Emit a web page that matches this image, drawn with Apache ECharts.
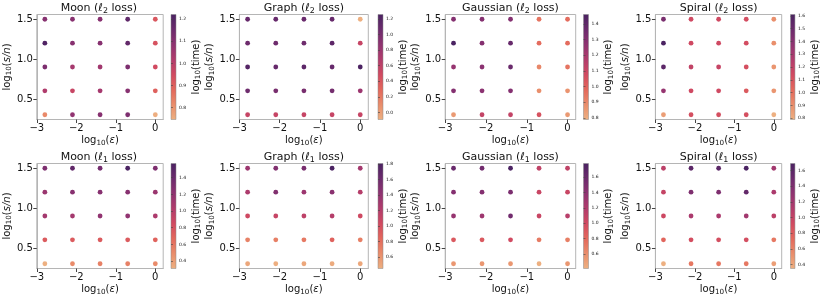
<!DOCTYPE html>
<html><head><meta charset="utf-8">
<script src="https://cdn.jsdelivr.net/npm/echarts@6/dist/echarts.min.js"></script>
<style>html,body{margin:0;padding:0;background:#fff}#c{width:822px;height:298px}</style>
</head><body><div id="c"></div>
<script>
// x: log10(eps), y: log10(s/n)
const epsLog = [-2.796, -2.097, -1.398, -0.699, 0];
const snLog = [0.301, 0.602, 0.903, 1.204, 1.505];
const xTicks = [-3, -2, -1, 0];
const yTicks = [0.5, 1.0, 1.5];

const panelNames = ['Moon', 'Graph', 'Gaussian', 'Spiral', 'Moon', 'Graph', 'Gaussian', 'Spiral'];
const panelLoss = ['2', '2', '2', '2', '1', '1', '1', '1'];

// log10(time), rows from s/n = 0.301 (bottom) to 1.505 (top), columns by epsLog
const moonL2 = [
  [0.82, 1.08, 1.10, 1.12, 0.75],
  [1.02, 0.97, 1.04, 1.10, 0.90],
  [1.12, 1.04, 1.05, 1.12, 0.95],
  [1.21, 1.10, 1.10, 1.17, 0.93],
  [1.10, 1.10, 1.10, 1.18, 0.92]
];
const graphL2 = [
  [0.55, 0.55, 0.55, 0.55, 0.55],
  [1.05, 1.00, 1.00, 1.02, 0.80],
  [1.20, 1.10, 1.15, 1.10, 1.25],
  [1.05, 1.05, 1.05, 1.15, 0.55],
  [1.10, 1.10, 1.08, 1.10, -0.09]
];
const gaussL2 = [
  [0.85, 1.12, 1.12, 1.05, 0.85],
  [1.30, 1.28, 1.30, 0.88, 0.87],
  [1.25, 1.28, 1.37, 0.90, 0.95],
  [1.46, 1.30, 1.38, 0.97, 0.97],
  [1.30, 1.30, 1.30, 0.95, 0.97]
];
const spiralL2 = [
  [0.85, 1.12, 1.12, 1.12, 0.79],
  [1.35, 1.15, 1.15, 1.08, 0.88],
  [1.55, 1.20, 1.18, 1.12, 0.88],
  [1.61, 1.15, 1.15, 1.13, 0.90],
  [1.45, 1.15, 1.15, 1.13, 0.90]
];
const moonL1 = [
  [0.31, 0.50, 0.55, 0.55, 0.50],
  [0.75, 0.75, 0.75, 0.75, 0.70],
  [1.10, 1.10, 1.20, 1.20, 1.05],
  [1.15, 1.25, 1.25, 1.25, 1.15],
  [1.30, 1.45, 1.35, 1.57, 1.30]
];
const graphL1 = [
  [0.50, 0.46, 0.50, 0.48, 0.50],
  [0.70, 0.72, 0.75, 0.88, 0.72],
  [1.05, 1.10, 1.15, 1.20, 1.05],
  [1.25, 1.50, 1.35, 1.45, 1.20],
  [1.35, 1.50, 1.55, 1.81, 1.30]
];
const gaussL1 = [
  [0.55, 0.55, 0.55, 0.41, 0.55],
  [0.90, 0.90, 1.00, 0.70, 0.68],
  [1.35, 1.30, 1.55, 1.05, 1.15],
  [1.45, 1.45, 1.50, 1.05, 1.05],
  [1.60, 1.55, 1.78, 1.10, 1.10]
];
const spiralL1 = [
  [0.35, 0.65, 0.65, 0.65, 0.45],
  [0.75, 0.90, 0.90, 0.90, 0.65],
  [0.95, 1.15, 1.15, 1.20, 1.05],
  [1.00, 1.40, 1.40, 1.55, 1.15],
  [1.05, 1.60, 1.60, 1.69, 1.20]
];
const panelValues = [moonL2, graphL2, gaussL2, spiralL2, moonL1, graphL1, gaussL1, spiralL1];

// colorbar ranges and ticks
const cbRange = [[0.747, 1.22], [-0.09, 1.256], [0.79, 1.46], [0.79, 1.61],
                 [0.31, 1.57], [0.45, 1.81], [0.41, 1.78], [0.35, 1.69]];
const cbTicks = [
  [0.8, 0.9, 1.0, 1.1, 1.2],
  [0.0, 0.2, 0.4, 0.6, 0.8, 1.0, 1.2],
  [0.8, 0.9, 1.0, 1.1, 1.2, 1.3, 1.4],
  [0.8, 0.9, 1.0, 1.1, 1.2, 1.3, 1.4, 1.5, 1.6],
  [0.4, 0.6, 0.8, 1.0, 1.2, 1.4],
  [0.6, 0.8, 1.0, 1.2, 1.4, 1.6, 1.8],
  [0.6, 0.8, 1.0, 1.2, 1.4, 1.6],
  [0.4, 0.6, 0.8, 1.0, 1.2, 1.4, 1.6]
];

// seaborn "flare" colormap samples (low -> high)
const flare = ['#edb081', '#e98d6b', '#e3685c', '#d14a61', '#b13c6c', '#8f3371', '#6c2b6d', '#4b2362'];

// layout
const colLeft = [34.4, 239.4, 445.2, 655.4];
const colWidth = [128.8, 128.9, 130.5, 126.3];
const cbLeft = [171, 378, 583.5, 790.5];
const rowTop = [14.5, 163.5];
const plotH = 105;
const FF = 'DejaVu Sans';
const TXT = '#111';

const subRich = (fs) => ({
  s: { fontSize: fs * 0.72, fontFamily: FF, color: TXT, verticalAlign: 'bottom', lineHeight: fs * 0.72 },
  i: { fontSize: fs, fontFamily: FF, color: TXT, fontStyle: 'italic' },
  l: { fontSize: fs, fontFamily: FF, color: TXT, fontStyle: 'italic' }
});
const fmt1 = v => (v < 0 ? '\u2212' : '') + Math.abs(v).toFixed(1);
const fmtInt = v => (v < 0 ? '\u2212' : '') + Math.abs(Math.round(v));

const grid = [], xAxis = [], yAxis = [], series = [], visualMap = [], title = [];
const cbGradStops = flare.map((c, i) => ({ offset: i / (flare.length - 1), color: c }));

for (let p = 0; p < 8; p++) {
  const row = Math.floor(p / 4), col = p % 4;
  const gi = grid.length;
  grid.push({ left: colLeft[col], top: rowTop[row], width: colWidth[col], height: plotH,
    show: true, borderColor: '#b5b5b5', borderWidth: 1, backgroundColor: '#fff' });
  xAxis.push({ gridIndex: gi, type: 'value', min: -3, max: 0.2,
    axisLine: { show: true, onZero: false, lineStyle: { color: '#b5b5b5' } },
    axisTick: { show: true, length: 3.5, customValues: xTicks, lineStyle: { color: '#444' } },
    axisLabel: { customValues: xTicks, formatter: fmtInt, fontSize: 10, fontFamily: FF, color: TXT, margin: 4 },
    splitLine: { show: false },
    name: 'log{s|10}({i|\u03b5})', nameLocation: 'middle', nameGap: 13,
    nameTextStyle: { fontSize: 10, fontFamily: FF, color: TXT, lineHeight: 12, rich: subRich(10) }
  });
  yAxis.push({ gridIndex: gi, type: 'value', min: 0.241, max: 1.565,
    axisLine: { show: true, onZero: false, lineStyle: { color: '#b5b5b5' } },
    axisTick: { show: true, length: 3.5, customValues: yTicks, lineStyle: { color: '#444' } },
    axisLabel: { customValues: yTicks, formatter: fmt1, fontSize: 10, fontFamily: FF, color: TXT, margin: 4 },
    splitLine: { show: false },
    name: 'log{s|10}({i|s/n})', nameLocation: 'middle', nameRotate: 90, nameGap: 18,
    nameTextStyle: { fontSize: 10, fontFamily: FF, color: TXT, lineHeight: 12, rich: subRich(10) }
  });
  const vals = panelValues[p];
  const data = [];
  for (let yi = 0; yi < snLog.length; yi++)
    for (let xi = 0; xi < epsLog.length; xi++)
      data.push([epsLog[xi], snLog[yi], vals[yi][xi]]);
  const si = series.length;
  series.push({ type: 'scatter', xAxisIndex: gi, yAxisIndex: gi, data: data,
    symbol: 'circle', symbolSize: 4.8, itemStyle: { opacity: 1 } });
  visualMap.push({ type: 'continuous', show: false, seriesIndex: si, dimension: 2,
    min: cbRange[p][0], max: cbRange[p][1], inRange: { color: flare } });

  // colorbar grid
  const ci = grid.length;
  grid.push({ left: cbLeft[col], top: rowTop[row], width: 5, height: plotH, show: true,
    borderColor: '#888', borderWidth: 0.5,
    backgroundColor: { type: 'linear', x: 0, y: 1, x2: 0, y2: 0, colorStops: cbGradStops } });
  xAxis.push({ gridIndex: ci, type: 'value', min: 0, max: 1, show: false });
  yAxis.push({ gridIndex: ci, type: 'value', position: 'right', min: cbRange[p][0], max: cbRange[p][1],
    axisLine: { show: false },
    axisTick: { show: true, length: 2, customValues: cbTicks[p], lineStyle: { color: '#444', width: 0.6 } },
    axisLabel: { customValues: cbTicks[p], formatter: fmt1, fontSize: 4.5, fontFamily: FF, color: TXT, margin: 3 },
    splitLine: { show: false },
    name: 'log{s|10}(time)', nameLocation: 'middle', nameRotate: 90, nameGap: 10,
    nameTextStyle: { fontSize: 10, fontFamily: FF, color: TXT, lineHeight: 12, rich: subRich(10) }
  });

  title.push({ text: panelNames[p] + ' ({l|\u2113}{s|' + panelLoss[p] + '} loss)',
    left: colLeft[col] + colWidth[col] / 2, top: rowTop[row] - 13, textAlign: 'center', padding: 0,
    textStyle: { fontSize: 11, fontWeight: 'normal', fontFamily: FF, color: TXT, lineHeight: 13, rich: subRich(11) } });
}

const chart = echarts.init(document.getElementById('c'), null, { renderer: 'canvas' });
chart.setOption({ animation: false, backgroundColor: '#fff', title, grid, xAxis, yAxis, series, visualMap });
</script>
</body></html>
